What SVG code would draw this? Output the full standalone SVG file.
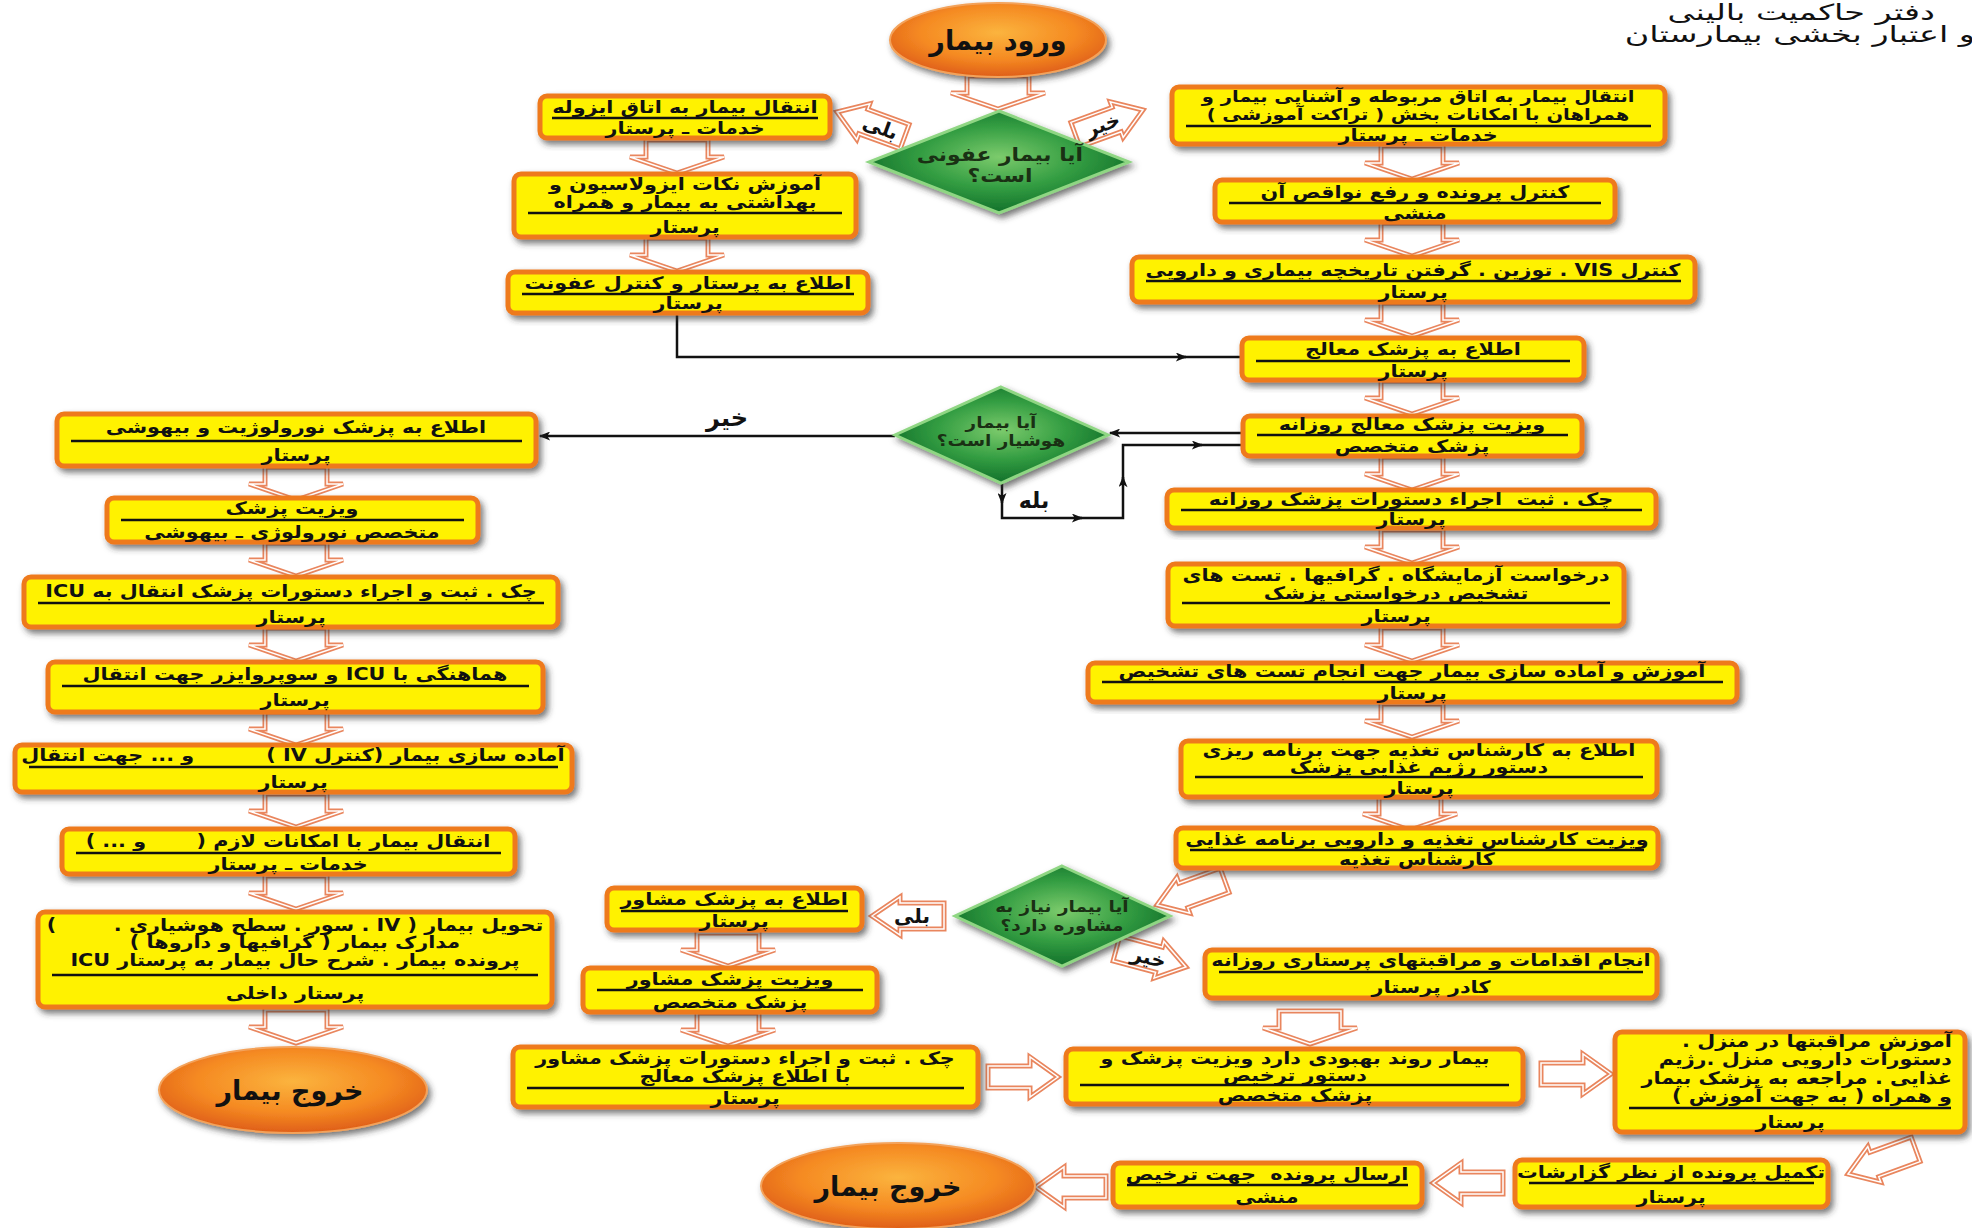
<svg xmlns="http://www.w3.org/2000/svg" width="1972" height="1228" viewBox="0 0 1972 1228">
<style>
text{font-family:"DejaVu Sans",sans-serif;direction:rtl;fill:#111}
.t{font-size:17px;font-weight:bold;text-anchor:middle;transform-box:fill-box;transform-origin:center;transform:scaleX(1.22)}
.tr{font-size:17px;font-weight:bold;text-anchor:start;transform-box:fill-box;transform-origin:right center;transform:scaleX(1.22)}
.bx{fill:#fff200;stroke:#ee7a1e;stroke-width:5;filter:url(#sh)}
.dv{stroke:#111;stroke-width:2.6}
.cn{fill:none;stroke:#111;stroke-width:2.5}
.dm{fill:url(#gg);stroke:#8fd683;stroke-width:3;filter:url(#sh)}
.ov{fill:url(#og);stroke:#f3a25a;stroke-width:2;filter:url(#sh)}
.dt{font-size:17px;font-weight:bold;text-anchor:middle;fill:#1a3014;transform-box:fill-box;transform-origin:center;transform:scaleX(1.15)}
.lb{font-size:20px;font-weight:bold;text-anchor:middle}
.ot{font-size:27px;font-weight:bold;text-anchor:middle}
.ti{font-size:22px;text-anchor:start;transform-box:fill-box;transform-origin:right center;transform:scaleX(1.52)}
</style>
<defs>
<filter id="sh" x="-10%" y="-20%" width="125%" height="150%">
<feDropShadow dx="3" dy="4" stdDeviation="3" flood-color="#333" flood-opacity="0.65"/>
</filter>
<radialGradient id="og" cx="50%" cy="40%" r="60%">
<stop offset="0" stop-color="#fbb43e"/><stop offset="0.6" stop-color="#f58a22"/><stop offset="1" stop-color="#df5e18"/>
</radialGradient>
<radialGradient id="gg" cx="50%" cy="45%" r="55%">
<stop offset="0" stop-color="#7ccb6c"/><stop offset="0.55" stop-color="#339d42"/><stop offset="1" stop-color="#12702a"/>
</radialGradient>
<marker id="ah" viewBox="0 0 10 8" refX="9" refY="4" markerWidth="13" markerHeight="9" markerUnits="userSpaceOnUse" orient="auto">
<path d="M0,0L10,4L0,8L2.5,4Z" fill="#111"/>
</marker>
<g id="dn">
<path d="M-31,0H31V17H47L0,33L-47,17H-31Z" fill="#fff" stroke="#e9865e" stroke-width="5"/>
<path d="M-31,0H31V17H47L0,33L-47,17H-31Z" fill="none" stroke="#fff" stroke-width="1.5"/>
</g>
<g id="rt">
<path d="M0,-11H42V-20L70,0L42,20V11H0Z" fill="#fff" stroke="#e9865e" stroke-width="5"/>
<path d="M0,-11H42V-20L70,0L42,20V11H0Z" fill="none" stroke="#fff" stroke-width="1.5"/>
</g>
<g id="lt">
<path d="M0,-11H-42V-20L-70,0L-42,20V11H0Z" fill="#fff" stroke="#e9865e" stroke-width="5"/>
<path d="M0,-11H-42V-20L-70,0L-42,20V11H0Z" fill="none" stroke="#fff" stroke-width="1.5"/>
</g>
<g id="lbl">
<path d="M0,0L28,-19V-13H72V13H28V19Z" fill="#fff" stroke="#e9865e" stroke-width="5"/>
<path d="M0,0L28,-19V-13H72V13H28V19Z" fill="none" stroke="#fff" stroke-width="1.5"/>
</g>
</defs>
<rect width="1972" height="1228" fill="#fff"/>

<g id="title">
<text class="ti" x="1935" y="20">دفتر حاکمیت بالینی</text>
<text class="ti" x="1975" y="42">و اعتبار بخشی بیمارستان</text>
</g>

<g id="connectors">
<path class="cn" d="M677,313V357H1186" marker-end="url(#ah)"/>
<path class="cn" d="M1183,357H1242"/>
<path class="cn" d="M1243,433H1110" marker-end="url(#ah)"/>
<path class="cn" d="M895,436H540" marker-end="url(#ah)"/>
<path class="cn" d="M1002,483V503" marker-end="url(#ah)"/>
<path class="cn" d="M1002,500V518H1082" marker-end="url(#ah)"/>
<path class="cn" d="M1079,518H1123V477" marker-end="url(#ah)"/>
<path class="cn" d="M1123,480V445H1202" marker-end="url(#ah)"/>
<path class="cn" d="M1199,445H1243"/>
<use href="#dn" x="998" y="76"/>
<use href="#dn" x="677" y="140"/>
<use href="#dn" x="677" y="238"/>
<use href="#dn" x="1412" y="146"/>
<use href="#dn" x="1412" y="223"/>
<use href="#dn" x="1412" y="303"/>
<use href="#dn" x="1412" y="381"/>
<use href="#dn" x="1412" y="457"/>
<use href="#dn" x="1412" y="530"/>
<use href="#dn" x="1412" y="628"/>
<use href="#dn" x="1412" y="704"/>
<use href="#dn" x="1410" y="797"/>
<use href="#dn" x="296" y="467"/>
<use href="#dn" x="296" y="543"/>
<use href="#dn" x="296" y="628"/>
<use href="#dn" x="296" y="712"/>
<use href="#dn" x="296" y="794"/>
<use href="#dn" x="296" y="876"/>
<use href="#dn" x="296" y="1010"/>
<use href="#dn" x="728" y="933"/>
<use href="#dn" x="728" y="1013"/>
<use href="#dn" x="1310" y="1011"/>
<use href="#rt" x="988" y="1077"/>
<use href="#rt" x="1541" y="1074"/>
<use href="#lt" x="1503" y="1183"/>
<use href="#lt" x="1106" y="1187"/>
<use href="#lbl" transform="translate(1157,905) rotate(-20)"/>
<use href="#lbl" transform="translate(1848,1174) rotate(-20)"/>
<g id="lbl-yes1"><use href="#lbl" transform="translate(837,112) rotate(20)"/><text class="lb" transform="translate(878,134) rotate(20)">بلی</text></g>
<g id="lbl-no1"><use href="#lbl" transform="translate(1143,110) rotate(-20) scale(-1,1)"/><text class="lb" transform="translate(1105,131) rotate(-20)">خیر</text></g>
<g id="lbl-yes3"><use href="#lbl" x="872" y="916"/><text class="lb" x="912" y="923">بلی</text></g>
<g id="lbl-no3"><use href="#lbl" transform="translate(1186,967) rotate(15) scale(-1,1)"/><text class="lb" transform="translate(1147,964) rotate(15)">خیر</text></g>
<text class="lb" x="727" y="426" style="font-size:24px">خیر</text>
<text class="lb" x="1034" y="508" style="font-size:22px">بله</text>
</g>

<g id="start"><ellipse class="ov" cx="998" cy="40" rx="108" ry="37"/><text class="ot" x="998" y="50">ورود بیمار</text></g>

<g id="d1"><polygon class="dm" points="999,111 1129,162 999,213 869,162"/><text class="dt" x="1000" y="161" style="font-size:19px">آیا بیمار عفونی</text><text class="dt" x="1000" y="182" style="font-size:19px">است؟</text></g>

<g id="a"><rect class="bx" x="540" y="96" width="290" height="42" rx="7"/><line class="dv" x1="552" y1="118" x2="818" y2="118"/><text class="t" x="685" y="113">انتقال بیمار به اتاق ایزوله</text><text class="t" x="685" y="134">خدمات ـ پرستار</text></g>
<g id="b"><rect class="bx" x="514" y="174" width="342" height="63" rx="7"/><line class="dv" x1="528" y1="213" x2="842" y2="213"/><text class="t" x="685" y="190">آموزش نکات ایزولاسیون و</text><text class="t" x="685" y="208">بهداشتی به بیمار و همراه</text><text class="t" x="685" y="233">پرستار</text></g>
<g id="c"><rect class="bx" x="508" y="272" width="360" height="41" rx="7"/><line class="dv" x1="522" y1="294" x2="854" y2="294"/><text class="t" x="688" y="289">اطلاع به پرستار و کنترل عفونت</text><text class="t" x="688" y="309">پرستار</text></g>

<g id="r1"><rect class="bx" x="1172" y="87" width="493" height="57" rx="7"/><line class="dv" x1="1186" y1="126" x2="1651" y2="126"/><text class="t" x="1418" y="102" style="font-size:16px">انتقال بیمار به اتاق مربوطه و آشنایی بیمار و</text><text class="t" x="1418" y="120" style="font-size:16px">همراهان با امکانات بخش ( تراکت آموزشی )</text><text class="t" x="1418" y="141">خدمات ـ پرستار</text></g>
<g id="r2"><rect class="bx" x="1215" y="180" width="400" height="42" rx="7"/><line class="dv" x1="1229" y1="203" x2="1601" y2="203"/><text class="t" x="1415" y="198">کنترل پرونده و رفع نواقص آن</text><text class="t" x="1415" y="219">منشی</text></g>
<g id="r3"><rect class="bx" x="1132" y="257" width="563" height="45" rx="7"/><line class="dv" x1="1146" y1="281" x2="1681" y2="281"/><text class="t" x="1413" y="276">کنترل VIS . توزین . گرفتن تاریخچه بیماری و دارویی</text><text class="t" x="1413" y="298">پرستار</text></g>
<g id="r4"><rect class="bx" x="1242" y="338" width="342" height="42" rx="7"/><line class="dv" x1="1256" y1="361" x2="1570" y2="361"/><text class="t" x="1413" y="355">اطلاع به پزشک معالج</text><text class="t" x="1413" y="377">پرستار</text></g>
<g id="r5"><rect class="bx" x="1243" y="416" width="339" height="40" rx="7"/><line class="dv" x1="1257" y1="435" x2="1568" y2="435"/><text class="t" x="1412" y="430">ویزیت پزشک معالج روزانه</text><text class="t" x="1412" y="452">پزشک متخصص</text></g>

<g id="d2"><polygon class="dm" points="1001,387 1108,435 1001,483 895,435"/><text class="dt" x="1001" y="428" style="font-size:16px">آیا بیمار</text><text class="dt" x="1001" y="446" style="font-size:16px">هوشیار است؟</text></g>

<g id="r6"><rect class="bx" x="1167" y="490" width="489" height="38" rx="7"/><line class="dv" x1="1181" y1="510" x2="1642" y2="510"/><text class="t" x="1411" y="505" xml:space="preserve">چک . ثبت  اجراء دستورات پزشک روزانه</text><text class="t" x="1411" y="525">پرستار</text></g>
<g id="r7"><rect class="bx" x="1168" y="564" width="456" height="62" rx="7"/><line class="dv" x1="1182" y1="603" x2="1610" y2="603"/><text class="t" x="1396" y="581">درخواست آزمایشگاه . گرافیها . تست های</text><text class="t" x="1396" y="599">تشخیص درخواستی پزشک</text><text class="t" x="1396" y="622">پرستار</text></g>
<g id="r8"><rect class="bx" x="1088" y="663" width="649" height="39" rx="7"/><line class="dv" x1="1102" y1="682" x2="1723" y2="682"/><text class="t" x="1412" y="677">آموزش و آماده سازی بیمار جهت انجام تست های تشخیص</text><text class="t" x="1412" y="699">پرستار</text></g>
<g id="r9"><rect class="bx" x="1181" y="741" width="476" height="56" rx="7"/><line class="dv" x1="1195" y1="777" x2="1643" y2="777"/><text class="t" x="1419" y="756">اطلاع به کارشناس تغذیه جهت برنامه ریزی</text><text class="t" x="1419" y="773">دستور رژیم غذایی پزشک</text><text class="t" x="1419" y="794">پرستار</text></g>
<g id="r10"><rect class="bx" x="1176" y="828" width="482" height="40" rx="7"/><line class="dv" x1="1190" y1="850" x2="1644" y2="850"/><text class="t" x="1417" y="845">ویزیت کارشناس تغذیه و دارویی برنامه غذایی</text><text class="t" x="1417" y="865">کارشناس تغذیه</text></g>

<g id="l1"><rect class="bx" x="57" y="414" width="479" height="52" rx="7"/><line class="dv" x1="71" y1="441" x2="522" y2="441"/><text class="t" x="296" y="433">اطلاع به پزشک نورولوژیت و بیهوشی</text><text class="t" x="296" y="461">پرستار</text></g>
<g id="l2"><rect class="bx" x="107" y="498" width="371" height="44" rx="7"/><line class="dv" x1="121" y1="520" x2="464" y2="520"/><text class="t" x="292" y="514">ویزیت پزشک</text><text class="t" x="292" y="538">متخصص نورولوژی ـ بیهوشی</text></g>
<g id="l3"><rect class="bx" x="24" y="577" width="534" height="50" rx="7"/><line class="dv" x1="38" y1="603" x2="544" y2="603"/><text class="t" x="291" y="597">چک . ثبت و اجراء دستورات پزشک انتقال به ICU</text><text class="t" x="291" y="623">پرستار</text></g>
<g id="l4"><rect class="bx" x="48" y="662" width="495" height="50" rx="7"/><line class="dv" x1="62" y1="686" x2="529" y2="686"/><text class="t" x="295" y="680">هماهنگی با ICU و سوپروایزر جهت انتقال</text><text class="t" x="295" y="706">پرستار</text></g>
<g id="l5"><rect class="bx" x="15" y="745" width="557" height="47" rx="7"/><line class="dv" x1="29" y1="767" x2="558" y2="767"/><text class="t" x="293" y="761" xml:space="preserve">آماده سازی بیمار (کنترل IV )          و ... جهت انتقال</text><text class="t" x="293" y="788">پرستار</text></g>
<g id="l6"><rect class="bx" x="62" y="829" width="453" height="45" rx="7"/><line class="dv" x1="76" y1="853" x2="501" y2="853"/><text class="t" x="288" y="847" xml:space="preserve">انتقال بیمار با امکانات لازم (       و ... )</text><text class="t" x="288" y="870">خدمات ـ پرستار</text></g>
<g id="l7"><rect class="bx" x="38" y="912" width="514" height="95" rx="7"/><line class="dv" x1="52" y1="975" x2="538" y2="975"/><text class="t" x="295" y="931" xml:space="preserve">تحویل بیمار ( IV . سور . سطح هوشیاری .        )</text><text class="t" x="295" y="948">مدارک بیمار ( گرافیها و داروها )</text><text class="t" x="295" y="966">پرونده بیمار . شرح حال بیمار به پرستار ICU</text><text class="t" x="295" y="999">پرستار داخلی</text></g>

<g id="end1"><ellipse class="ov" cx="293" cy="1090" rx="134" ry="43"/><text class="ot" x="290" y="1100">خروج بیمار</text></g>

<g id="d3"><polygon class="dm" points="1062,866 1170,916 1062,966 955,916"/><text class="dt" x="1062" y="912" style="font-size:16px">آیا بیمار نیاز به</text><text class="dt" x="1062" y="931" style="font-size:16px">مشاوره دارد؟</text></g>

<g id="m1"><rect class="bx" x="607" y="888" width="255" height="42" rx="7"/><line class="dv" x1="621" y1="911" x2="848" y2="911"/><text class="t" x="734" y="905">اطلاع به پزشک مشاور</text><text class="t" x="734" y="927">پرستار</text></g>
<g id="m2"><rect class="bx" x="583" y="968" width="294" height="44" rx="7"/><line class="dv" x1="597" y1="990" x2="863" y2="990"/><text class="t" x="730" y="985">ویزیت پزشک مشاور</text><text class="t" x="730" y="1008">پزشک متخصص</text></g>
<g id="m3"><rect class="bx" x="513" y="1047" width="465" height="60" rx="7"/><line class="dv" x1="527" y1="1088" x2="964" y2="1088"/><text class="t" x="745" y="1064">چک . ثبت و اجراء دستورات پزشک مشاور</text><text class="t" x="745" y="1082">با اطلاع پزشک معالج</text><text class="t" x="745" y="1104">پرستار</text></g>
<g id="n"><rect class="bx" x="1205" y="950" width="452" height="48" rx="7"/><line class="dv" x1="1219" y1="972" x2="1643" y2="972"/><text class="t" x="1431" y="966">انجام اقدامات و مراقبتهای پرستاری روزانه</text><text class="t" x="1431" y="993">کادر پرستار</text></g>
<g id="m4"><rect class="bx" x="1066" y="1049" width="457" height="55" rx="7"/><line class="dv" x1="1080" y1="1085" x2="1509" y2="1085"/><text class="t" x="1295" y="1064">بیمار روند بهبودی دارد ویزیت پزشک و</text><text class="t" x="1295" y="1081">دستور ترخیص</text><text class="t" x="1295" y="1101">پزشک متخصص</text></g>
<g id="m5"><rect class="bx" x="1615" y="1032" width="350" height="100" rx="7"/><line class="dv" x1="1629" y1="1108" x2="1951" y2="1108"/><text class="tr" x="1952" y="1047">آموزش مراقبتها در منزل .</text><text class="tr" x="1952" y="1065">دستورات دارویی منزل .رژیم</text><text class="tr" x="1952" y="1084">غذایی . مراجعه به پزشک بیمار</text><text class="tr" x="1952" y="1102">و همراه ( به جهت آموزش )</text><text class="t" x="1790" y="1128">پرستار</text></g>
<g id="m6"><rect class="bx" x="1515" y="1160" width="313" height="47" rx="7"/><line class="dv" x1="1529" y1="1183" x2="1814" y2="1183"/><text class="t" x="1671" y="1178">تکمیل پرونده از نظر گزارشات</text><text class="t" x="1671" y="1203">پرستار</text></g>
<g id="m7"><rect class="bx" x="1113" y="1163" width="309" height="44" rx="7"/><line class="dv" x1="1127" y1="1185" x2="1408" y2="1185"/><text class="t" x="1267" y="1180" xml:space="preserve">ارسال پرونده  جهت ترخیص</text><text class="t" x="1267" y="1203">منشی</text></g>

<g id="end2"><ellipse class="ov" cx="898" cy="1186" rx="137" ry="43"/><text class="ot" x="888" y="1196">خروج بیمار</text></g>
</svg>
